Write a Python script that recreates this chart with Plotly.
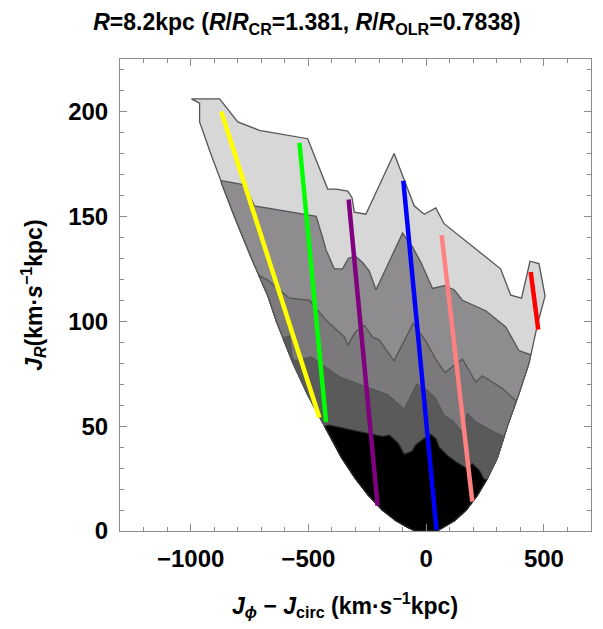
import plotly.graph_objects as go

# ---- data ----
# allowed-region boundary (parabola-like lower envelope)
bound_y = [0, 2, 5, 10, 17, 25, 35, 50, 65, 80, 100, 112, 130, 150, 166, 180, 195, 204]
left_x = [-45, -82, -129, -186, -245, -300, -359, -430, -503, -565, -636, -672, -742, -815, -870, -915, -962, -962]
right_x = [45, 78, 121, 170, 217, 260, 303, 345, 393, 437, 476, 505, None, None, None, None, None, None]

# contour level 1 (outer, light) upper outline
c1_x = [-997, -877, -800, -708, -503, -467, -418, -383, -333, -315, -305, -256, -136, -51, -8, 41, 76, 316, 359, 405, 441, 479, 493, 506]
c1_y = [206, 206, 195, 191, 187, 177, 163, 163, 162, 159, 152, 151, 180, 155, 151, 154, 146.5, 125, 112.4, 111, 128.6, 127.5, 119.5, 112.4]

# contour level 2 upper edge
c2_x = [-870, -771, -729, -503, -467, -440, -425, -390, -355, -330, -300, -270, -242, -213, -100, -58, -22, 27, 76, 119, 154, 253, 338, 394, 444]
c2_y = [167, 165, 155, 150.5, 150, 140, 134, 125, 125, 130, 131, 128, 124, 115, 142, 135.4, 128, 115.6, 117, 115, 110, 105, 97.3, 86, 84]

# contour level 3 upper edge
c3_x = [-711, -672, -623, -581, -496, -425, -347, -333, -300, -263, -228, -199, -136, -128, -55, -1, 40, 80, 154, 211, 239, 323, 383]
c3_y = [122, 119.5, 115, 111, 110, 100.5, 92.5, 88.6, 95, 98, 92.5, 91, 81, 83, 99, 90.5, 82, 75.5, 82, 71, 74, 68, 62]

# contour level 4 upper edge
c4_x = [-608, -580, -570, -559, -489, -369, -256, -199, -164, -93, -40, 5, 41, 76, 112, 154, 175, 211, 300, 331]
c4_y = [92, 93, 83, 81, 83, 73.5, 68.7, 66.3, 65, 58, 70, 67, 63, 55, 52.5, 47, 56, 52, 46.5, 45]

# contour level 5 (innermost, black) upper edge
c5_x = [-430, -411, -312, -242, -185, -157, -120, -93, -60, -44, -10, 20, 41, 55, 90, 126, 168, 196, 225, 246, 257]
c5_y = [50, 50.5, 48, 46.5, 45, 45.7, 42, 36.5, 38, 41, 44, 46, 44, 40, 36, 33, 30, 32, 29, 24.5, 24.5]

level_colors = ["#d7d7d7", "#8f8c90", "#7b797c", "#5a5a5a", "#000000"]

# resonance lines: (x_start, y_start, x_end, y_end)
line_names = ["yellow", "green", "purple", "blue", "salmon", "red"]
line_colors = ["#ffff00", "#00ff00", "#800080", "#0000ff", "#ff8080", "#ff0000"]
line_x0 = [-870, -538, -329, -97, 66, 444]
line_y0 = [200, 185, 158, 167, 141, 123.5]
line_x1 = [-453, -425, -206, 44, 196, 476]
line_y1 = [54, 52, 12, 0.5, 14, 96]

xtick_vals = [-1000, -500, 0, 500]
xtick_text = ["\u22121000", "\u2212500", "0", "500"]
ytick_vals = [0, 50, 100, 150, 200]


def region(ex, ey):
    """close a contour edge with the allowed-region boundary"""
    xs = list(ex)
    ys = list(ey)
    yr = ey[-1]
    yl = ey[0]
    # down the right boundary
    for yb, xb in reversed(list(zip(bound_y, right_x))):
        if xb is not None and yb < yr:
            xs.append(xb)
            ys.append(yb)
    # up the left boundary
    for yb, xb in zip(bound_y, left_x):
        if yb < yl:
            xs.append(xb)
            ys.append(yb)
    xs.append(ex[0])
    ys.append(ey[0])
    return xs, ys


fig = go.Figure()
edges = [(c1_x, c1_y), (c2_x, c2_y), (c3_x, c3_y), (c4_x, c4_y), (c5_x, c5_y)]
for i, (ex, ey) in enumerate(edges):
    xs, ys = region(ex, ey)
    fig.add_trace(go.Scatter(
        x=xs, y=ys, mode="lines", fill="toself",
        fillcolor=level_colors[i],
        line=dict(color="#555555" if i < 4 else "#222222", width=1.3),
        hoverinfo="skip", showlegend=False))

for i in range(len(line_names)):
    fig.add_trace(go.Scatter(
        x=[line_x0[i], line_x1[i]], y=[line_y0[i], line_y1[i]],
        mode="lines", line=dict(color=line_colors[i], width=4.5),
        name=line_names[i], showlegend=False))

FONT = "Liberation Sans, Arial, sans-serif"
axis_common = dict(
    showgrid=False, zeroline=False, showline=True, linecolor="#8c8c8c", linewidth=1,
    mirror="allticks", ticks="inside", ticklen=7, tickcolor="#8c8c8c", tickwidth=1,
    tickfont=dict(family=FONT, size=24, color="black", weight="bold"),
)
fig.update_xaxes(range=[-1300, 700], tickvals=xtick_vals, ticktext=xtick_text,
                 minor=dict(dtick=100, ticks="inside", ticklen=4, tickcolor="#8c8c8c"),
                 ticklabelstandoff=6, **axis_common)
fig.update_yaxes(range=[0, 225], tickvals=ytick_vals,
                 minor=dict(dtick=10, ticks="inside", ticklen=4, tickcolor="#8c8c8c"),
                 ticklabelstandoff=6, **axis_common)

fig.update_layout(
    width=603, height=629,
    margin=dict(l=120, r=12, t=59, b=98),
    plot_bgcolor="white", paper_bgcolor="white",
    title=dict(
        text="<b><i>R</i>=8.2kpc (<i>R</i>/<i>R</i><sub>CR</sub>=1.381, <i>R</i>/<i>R</i><sub>OLR</sub>=0.7838)</b>",
        font=dict(family=FONT, size=23, color="black"),
        x=0.509, xanchor="center", xref="container", y=0.965, yanchor="middle", yref="container"),
    annotations=[
        dict(text="<b><i>J</i><sub><i>\u03d5</i></sub> \u2212 <i>J</i><sub>circ</sub> (km\u00b7<i>s</i><sup>\u22121</sup>kpc)</b>",
             xref="paper", yref="paper", x=0.478, y=-0.157, xanchor="center", yanchor="middle",
             showarrow=False, font=dict(family=FONT, size=23, color="black")),
        dict(text="<b><i>J</i><sub><i>R</i></sub>(km\u00b7<i>s</i><sup>\u22121</sup>kpc)</b>",
             xref="paper", yref="paper", x=-0.185, y=0.5, xanchor="center", yanchor="middle",
             textangle=-90, showarrow=False, font=dict(family=FONT, size=23, color="black")),
    ],
)

fig.write_html("out.html")
